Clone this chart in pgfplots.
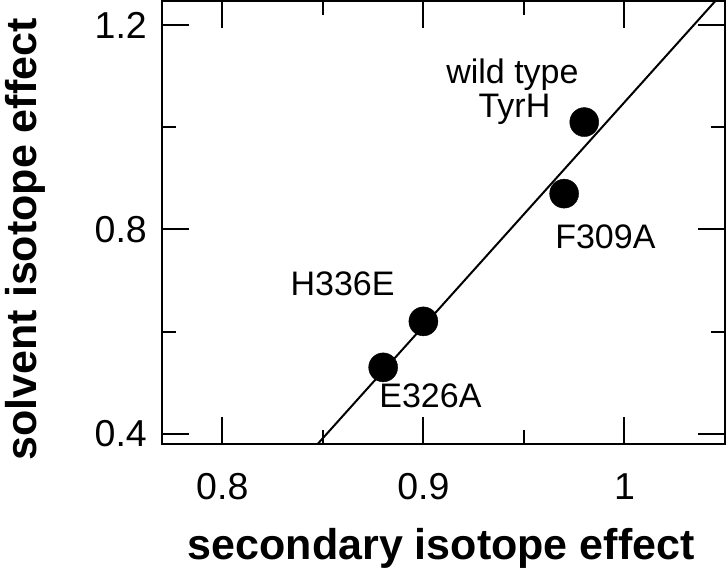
\documentclass[border=0pt]{standalone}
\usepackage{fontspec}
\setmainfont{Liberation Sans}
\usepackage{pgfplots}
\pgfplotsset{compat=1.18}
\begin{document}
\begin{tikzpicture}
\begin{axis}[
 scale only axis, width=563pt, height=443pt,
 xmin=0.770, xmax=1.050, ymin=0.380, ymax=1.247,
 xtick={0.8,0.9,1.0}, xticklabels={0.8,0.9,1},
 minor xtick={0.85,0.95},
 ytick={0.4,0.8,1.2}, yticklabels={0.4,0.8,1.2},
 minor ytick={0.6,1.0},
 tick align=inside, xtick pos=both, ytick pos=both,
 major tick length=27pt, minor tick length=14pt,
 axis line style={line width=2pt},
 every tick/.style={line width=2pt, black},
 ticklabel style={font=\fontsize{37.5}{40}\selectfont, inner sep=0pt},
 xticklabel style={yshift=-29pt},
 yticklabel style={xshift=-15pt},
 clip=false,
]
\addplot[black, line width=2pt] coordinates {(0.8474,0.380) (1.0452,1.247)};
\addplot[only marks, mark=*, mark size=14.5pt, black] coordinates {(0.98,1.01) (0.97,0.87) (0.90,0.62) (0.88,0.53)};
\node[anchor=base, font=\fontsize{34}{36}\selectfont, inner sep=0pt] at (axis cs:0.9443,1.0863) {wild type};
\node[anchor=base, font=\fontsize{34}{36}\selectfont, inner sep=0pt] at (axis cs:0.9453,1.0196) {TyrH};
\node[anchor=base, font=\fontsize{34}{36}\selectfont, inner sep=0pt] at (axis cs:0.9905,0.7627) {F309A};
\node[anchor=base, font=\fontsize{34}{36}\selectfont, inner sep=0pt] at (axis cs:0.8598,0.6706) {H336E};
\node[anchor=base, font=\fontsize{34}{36}\selectfont, inner sep=0pt] at (axis cs:0.9035,0.4510) {E326A};
\node[anchor=base, rotate=90, font=\bfseries\fontsize{43}{45}\selectfont, inner sep=0pt] at (rel axis cs:-0.2220,0.462) {solvent isotope effect};
\node[anchor=base, font=\bfseries\fontsize{43}{45}\selectfont, inner sep=0pt] at (rel axis cs:0.496,-0.2596) {secondary isotope effect};
\path (rel axis cs:-0.2877,0.5);
\end{axis}
\end{tikzpicture}
\end{document}
